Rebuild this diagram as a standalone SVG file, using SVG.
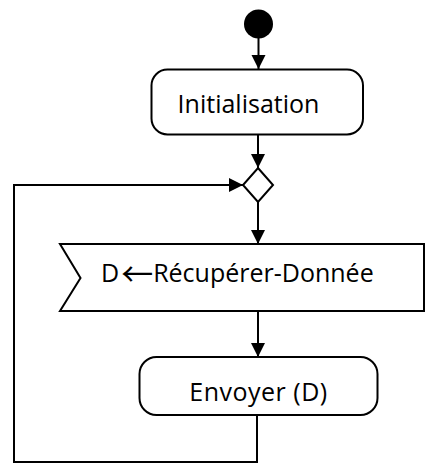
<svg xmlns="http://www.w3.org/2000/svg" width="425" height="464" viewBox="0 0 425 464">
  <style>
    .shape { fill: #ffffff; stroke: #000000; stroke-width: 2; }
    .edge { fill: none; stroke: #000000; stroke-width: 2; }
    .label { font-family: "Open Sans", "Liberation Sans", sans-serif; font-size: 25px; fill: #000000; }
    .sym { font-family: "Noto Sans CJK JP", "DejaVu Sans", sans-serif; font-size: 32px; }
  </style>
  <defs>
    <marker id="arrow" markerUnits="userSpaceOnUse" markerWidth="15" markerHeight="15" refX="14" refY="7" orient="auto">
      <path d="M0,0 L14,7 L0,14 Z" fill="#000000"/>
    </marker>
  </defs>

  <rect width="425" height="464" fill="#ffffff"/>

  <!-- connectors -->
  <g id="connectors">
    <line class="edge" x1="258.5" y1="36" x2="258.5" y2="69" marker-end="url(#arrow)"/>
    <line class="edge" x1="258" y1="135" x2="258" y2="168" marker-end="url(#arrow)"/>
    <line class="edge" x1="258" y1="202" x2="258" y2="244" marker-end="url(#arrow)"/>
    <line class="edge" x1="258" y1="311" x2="258" y2="357" marker-end="url(#arrow)"/>
    <polyline class="edge" points="257,415 257,462 14,462 14,185 243,185" marker-end="url(#arrow)"/>
  </g>

  <!-- start node -->
  <g id="start">
    <circle cx="258.5" cy="24" r="14.5" fill="#000000"/>
  </g>

  <!-- Initialisation action -->
  <g id="initialisation">
    <rect class="shape" x="151.5" y="69.5" width="211.5" height="65" rx="16" ry="16"/>
    <text class="label" x="248.5" y="113" text-anchor="middle">Initialisation</text>
  </g>

  <!-- merge node -->
  <g id="merge">
    <polygon class="shape" points="258,168 273,185 258,202 243,185"/>
  </g>

  <!-- receive signal -->
  <g id="recuperer">
    <polygon class="shape" points="60,244 424,244 424,311 60,311 80.5,278"/>
    <text class="label" x="101" y="282">D<tspan class="sym" dx="2" dy="4">←</tspan><tspan dy="-4">Récupérer-Donnée</tspan></text>
  </g>

  <!-- Envoyer action -->
  <g id="envoyer">
    <rect class="shape" x="139.5" y="357" width="238" height="58" rx="17" ry="17"/>
    <text class="label" x="258.5" y="401" text-anchor="middle" letter-spacing="0.5">Envoyer (D)</text>
  </g>
</svg>
